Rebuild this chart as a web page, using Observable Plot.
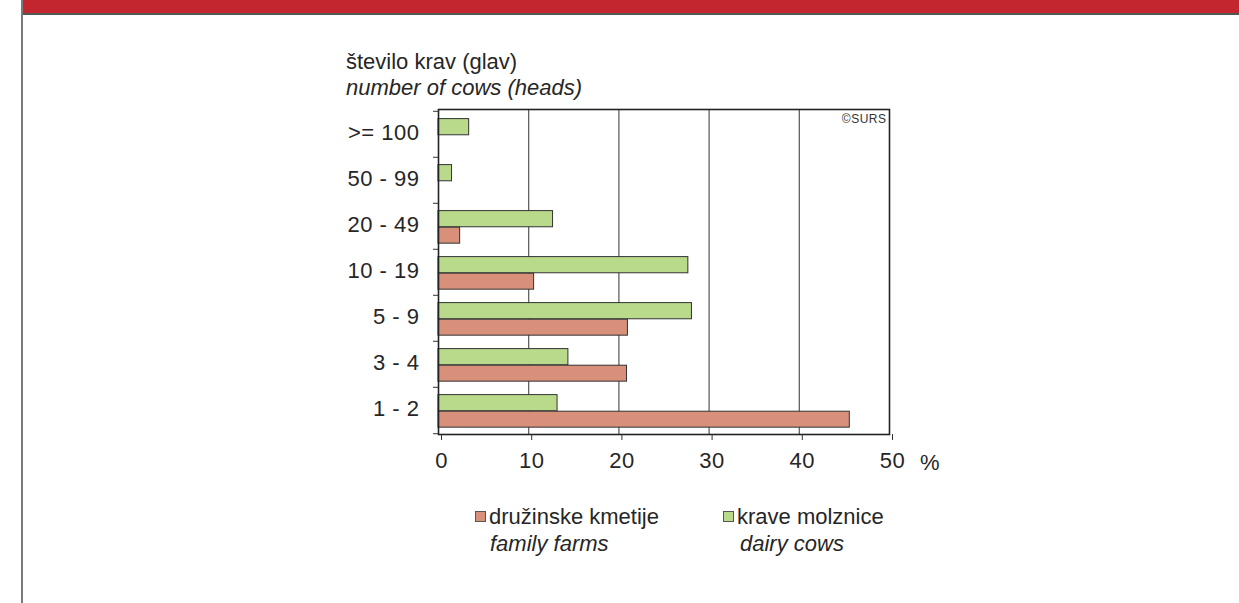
<!DOCTYPE html>
<html>
<head>
<meta charset="utf-8">
<script src="https://cdn.jsdelivr.net/npm/d3@7"></script>
<script src="https://cdn.jsdelivr.net/npm/@observablehq/plot@0.6"></script>
<style>
  html, body { margin: 0; padding: 0; background: #fff; }
  body { width: 1239px; height: 603px; position: relative; overflow: hidden;
         font-family: "Liberation Sans", Arial, Helvetica, sans-serif; color: #262626; }
  .abs { position: absolute; white-space: nowrap; }
  #chart { position: absolute; left: 0; top: 0; }
  .sw { display: inline-block; width: 9px; height: 9px; border: 1px solid #555; vertical-align: middle; }
</style>
</head>
<body>
<div class="abs" style="left:22px; top:0; width:1217px; height:13px; background:#c4262f; border-bottom:2px solid #555;"></div>
<div class="abs" style="left:21px; top:0; width:2px; height:603px; background:#7a7a7a;"></div>
<div id="chart"></div>
<div class="abs" style="left:346px; top:49px; font-size:22px;">število krav (glav)</div>
<div class="abs" style="left:346px; top:75px; font-size:22px; font-style:italic;">number of cows (heads)</div>
<div class="abs" style="left:920px; top:450px; font-size:22px;">%</div>
<div class="abs" style="left:475px; top:503px; font-size:22px; line-height:27px;">
  <span class="sw" id="sw1" style="position:relative; top:-2px;"></span><span style="margin-left:3px;">družinske kmetije</span><br>
  <span style="font-style:italic; margin-left:15px;">family farms</span>
</div>
<div class="abs" style="left:723px; top:503px; font-size:22px; line-height:27px;">
  <span class="sw" id="sw2" style="position:relative; top:-2px;"></span><span style="margin-left:3px;">krave molznice</span><br>
  <span style="font-style:italic; margin-left:17px;">dairy cows</span>
</div>
<script>
// ---- data ----
const categories = [">= 100", "50 - 99", "20 - 49", "10 - 19", "5 - 9", "3 - 4", "1 - 2"];
const familyFarms = [null, null, 2.4, 10.6, 21.0, 20.9, 45.6];   // družinske kmetije (%)
const dairyCows   = [3.4, 1.5, 12.7, 27.7, 28.1, 14.4, 13.2];    // krave molznice (%)
const xTicks = [0, 10, 20, 30, 40, 50];
const gridTicks = [10, 20, 30, 40];
const seriesNames = ["družinske kmetije", "krave molznice"];
const colors = ["#d9907a", "#b9d98b"];

document.getElementById("sw1").style.background = colors[0];
document.getElementById("sw2").style.background = colors[1];

const farmsData = categories.map((c, i) => ({cat: c, value: familyFarms[i]})).filter(d => d.value != null);
const cowsData = categories.map((c, i) => ({cat: c, value: dairyCows[i]})).filter(d => d.value != null);

const plotTop = 109, plotBottom = 434;
const bw = (plotBottom - plotTop) / categories.length;

const chart = Plot.plot({
  width: 1239,
  height: 603,
  marginLeft: 438,
  marginRight: 350,
  marginTop: plotTop,
  marginBottom: 603 - plotBottom,
  style: {fontFamily: "Liberation Sans, Arial, Helvetica, sans-serif", fontSize: "22px", color: "#262626", background: "transparent", overflow: "visible", letterSpacing: "0.5px"},
  x: {domain: [0, 50], label: null},
  y: {type: "band", domain: categories, padding: 0, label: null},
  marks: [
    Plot.ruleX(gridTicks, {stroke: "#555", strokeWidth: 1.2, strokeOpacity: 1}),
    Plot.barX(cowsData, {x: "value", y: "cat", fill: colors[1], stroke: "#333", strokeWidth: 1, insetTop: 7.6, insetBottom: bw - 24.2}),
    Plot.barX(farmsData, {x: "value", y: "cat", fill: colors[0], stroke: "#333", strokeWidth: 1, insetTop: 24.2, insetBottom: bw - 40.6}),
    Plot.frame({stroke: "#222", strokeWidth: 1.6}),
    Plot.axisX({ticks: xTicks, tickSize: 6, tickPadding: 12, dx: 3, label: null, stroke: "#333", fill: "#262626", fontSize: 22}),
    Plot.axisY({tickSize: 0, tickPadding: 19, dy: -1.5, label: null, fill: "#262626", fontSize: 22}),
    Plot.axisY(categories, {tickSize: 5, tickFormat: () => "", dy: -bw / 2, label: null, stroke: "#333"}),
    Plot.axisY([categories[categories.length - 1]], {tickSize: 5, tickFormat: () => "", dy: bw / 2, label: null, stroke: "#333"}),
    Plot.text(["©SURS"], {frameAnchor: "top-right", dx: -3, dy: 5, fontSize: 12, fill: "#333"})
  ]
});
document.getElementById("chart").appendChild(chart);
</script>
</body>
</html>
